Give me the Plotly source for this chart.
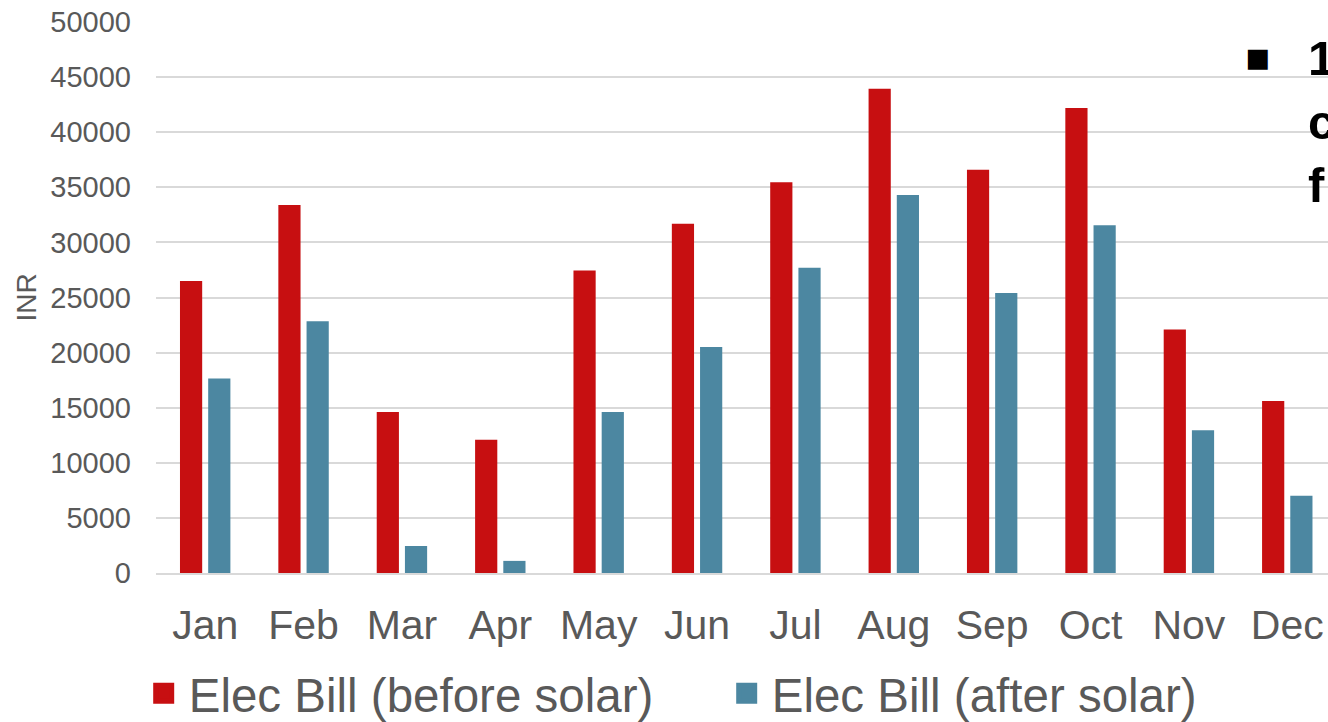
import plotly.graph_objects as go

# Monthly electricity bill, INR
months = ["Jan", "Feb", "Mar", "Apr", "May", "Jun",
          "Jul", "Aug", "Sep", "Oct", "Nov", "Dec"]
bill_before_solar = [26500, 33400, 14600, 12100, 27450, 31700,
                     35450, 43950, 36600, 42200, 22100, 15600]
bill_after_solar = [17650, 22850, 2450, 1100, 14600, 20500,
                    27700, 34300, 25400, 31550, 12950, 7000]

y_ticks = [0, 5000, 10000, 15000, 20000, 25000, 30000, 35000, 40000, 45000, 50000]

RED = "#C70F11"
BLUE = "#4C87A1"
GREY_TEXT = "#595959"
GRID = "#D9D9D9"
FONT = "Liberation Sans, Arial, sans-serif"

W, H = 1328, 722
ML, MR, MT, MB = 156.3, 0, 21.7, 149.3


def px_x(px):
    return (px - ML) / (W - ML - MR)


def px_y(py):
    return (H - MB - py) / (H - MT - MB)


fig = go.Figure()
fig.add_trace(go.Bar(x=months, y=bill_before_solar, name="Elec Bill (before solar)",
                     marker=dict(color=RED, line=dict(width=0)), showlegend=False))
fig.add_trace(go.Bar(x=months, y=bill_after_solar, name="Elec Bill (after solar)",
                     marker=dict(color=BLUE, line=dict(width=0)), showlegend=False))

# legend entries with larger square swatches
for name, col in [("Elec Bill (before solar)", RED), ("Elec Bill (after solar)", BLUE)]:
    fig.add_trace(go.Scatter(x=[None], y=[None], mode="markers", name=name,
                             marker=dict(symbol="square", size=16, color=col,
                                         line=dict(color=col, width=5))))

fig.update_layout(
    width=W, height=H,
    margin=dict(l=ML, r=MR, t=MT, b=MB, pad=0, autoexpand=False),
    paper_bgcolor="white", plot_bgcolor="white",
    barmode="group", bargap=0.4265, bargroupgap=0.213,
    font=dict(family=FONT, color=GREY_TEXT),
    legend=dict(orientation="h", xref="paper", yref="paper",
                x=px_x(139), y=px_y(693), xanchor="left", yanchor="middle",
                font=dict(size=47.5, color=GREY_TEXT, family=FONT),
                entrywidth=528, entrywidthmode="pixels", itemwidth=40,
                itemsizing="trace", bgcolor="rgba(0,0,0,0)"),
    showlegend=True,
)

fig.update_xaxes(
    type="category", range=[-0.5, 11.414],
    showgrid=False, showline=True, linecolor=GRID, linewidth=1.5,
    ticks="", tickfont=dict(size=41, color=GREY_TEXT, family=FONT),
    ticklabelstandoff=15, zeroline=False,
)
fig.update_yaxes(
    range=[0, 50000], tickvals=y_ticks, ticktext=[str(v) for v in y_ticks],
    showgrid=True, gridcolor=GRID, gridwidth=1.5,
    zeroline=False, showline=False, ticks="",
    tickfont=dict(size=29, color=GREY_TEXT, family=FONT),
    ticklabelstandoff=24,
    title=dict(text="INR", font=dict(size=28, color=GREY_TEXT, family=FONT), standoff=5),
)

# overlapping bullet text at the right edge
fig.add_annotation(xref="paper", yref="paper", x=px_x(1242), y=px_y(56),
                   xanchor="left", yanchor="middle", showarrow=False,
                   text="▪", font=dict(size=40, color="black", family="DejaVu Sans"))
fig.add_annotation(xref="paper", yref="paper", x=px_x(1306), y=px_y(29),
                   xanchor="left", yanchor="top", showarrow=False, align="left",
                   text="<b>1</b><br><b>c</b><br><b>f</b>",
                   font=dict(size=49, color="black", family="Liberation Sans"))

fig.write_html("out.html", config={"displayModeBar": False})
